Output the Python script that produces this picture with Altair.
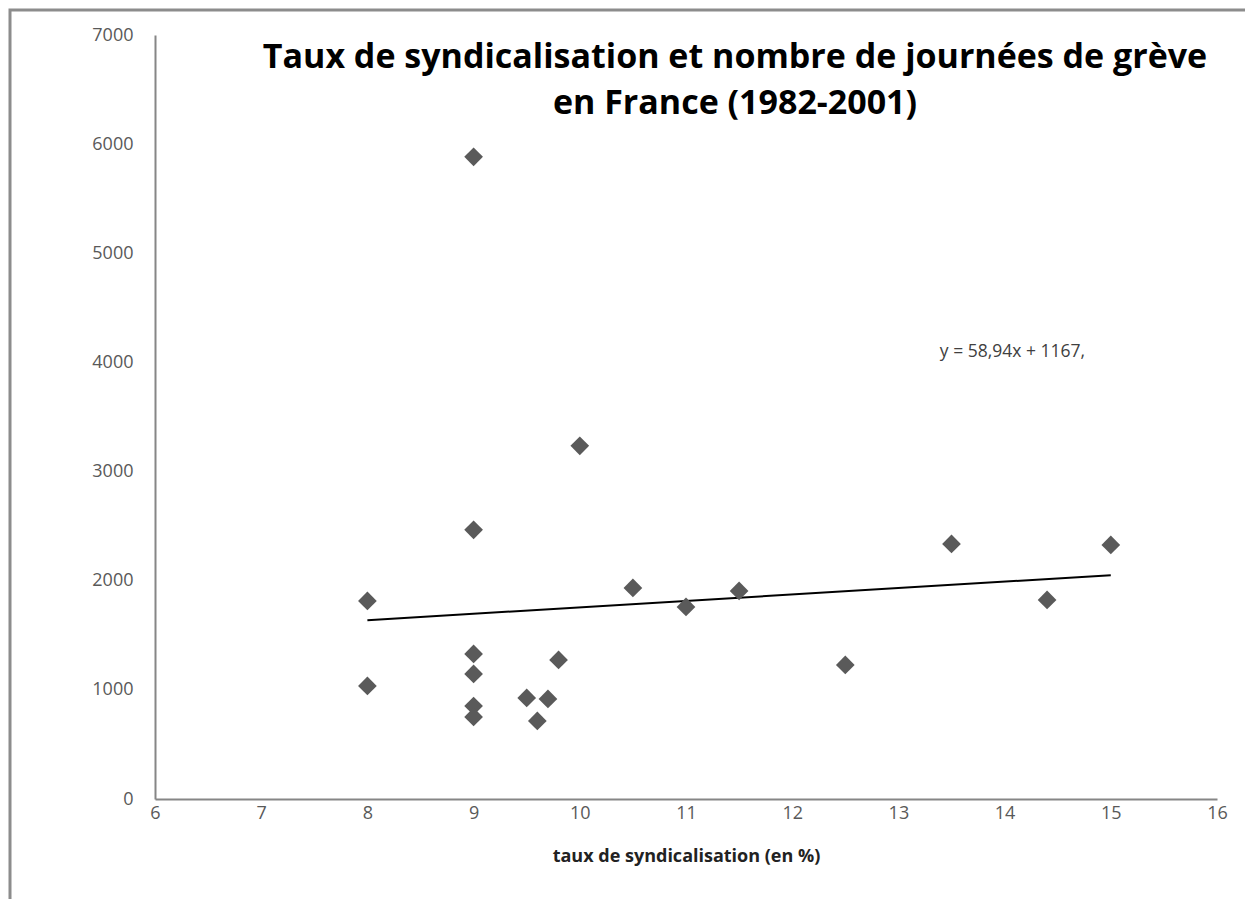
import altair as alt
import pandas as pd

# Data
taux = [8, 8, 9, 9, 9, 9, 9, 9, 9.5, 9.6, 9.7, 9.8, 10, 10.5, 11, 11.5, 12.5, 13.5, 14.4, 15]
jours = [1815, 1036, 5884, 2466, 1329, 1146, 852, 752, 926, 715, 917, 1274, 3236, 1934, 1760, 1906, 1228, 2337, 1824, 2328]

trend_x = [8, 15]
trend_y = [1638.5, 2051.1]

eq_label = ["y = 58,94x + 1167,"]
eq_x = [13.39]
eq_y = [4096]

title_lines = ["Taux de syndicalisation et nombre de journées de grève", "en France (1982-2001)"]
x_ticks = [6, 7, 8, 9, 10, 11, 12, 13, 14, 15, 16]
y_ticks = [0, 1000, 2000, 3000, 4000, 5000, 6000, 7000]

FONT = "Open Sans"

pts = pd.DataFrame({"taux": taux, "jours": jours})
trend = pd.DataFrame({"taux": trend_x, "jours": trend_y})
eq = pd.DataFrame({"taux": eq_x, "jours": eq_y, "label": eq_label})

xscale = alt.Scale(domain=[6, 16], nice=False, zero=False)
yscale = alt.Scale(domain=[0, 7000], nice=False)

xaxis = alt.Axis(values=x_ticks, format="d", title="taux de syndicalisation (en %)", grid=False, ticks=False,
                 domainColor="#868686", domainWidth=2, labelColor="#595959", labelFont=FONT,
                 labelFontSize=18, labelPadding=5, titleFont=FONT, titleFontSize=18,
                 titleFontWeight="bold", titleColor="#222222", titlePadding=25, labelFlush=False)
yaxis = alt.Axis(values=y_ticks, format="d", title=None, grid=False, ticks=False, domainColor="#868686",
                 domainWidth=2, labelColor="#595959", labelFont=FONT, labelFontSize=18,
                 labelPadding=22, labelFlush=False)

frame = alt.Chart(pd.DataFrame({"a": [0]})).mark_rect(
    fill=None, stroke="#8c8c8c", strokeWidth=3, clip=False
).encode(x=alt.value(-145), y=alt.value(-25), x2=alt.value(1130), y2=alt.value(920))

points = alt.Chart(pts).mark_point(
    shape="diamond", filled=True, size=350, color="#5a5a5a", opacity=1
).encode(
    x=alt.X("taux:Q", scale=xscale, axis=xaxis),
    y=alt.Y("jours:Q", scale=yscale, axis=yaxis),
)

line = alt.Chart(trend).mark_line(color="#000000", strokeWidth=2).encode(
    x=alt.X("taux:Q", scale=xscale),
    y=alt.Y("jours:Q", scale=yscale),
)

eqtext = alt.Chart(eq).mark_text(
    align="left", baseline="middle", font=FONT, fontSize=17.5, color="#404040"
).encode(
    x=alt.X("taux:Q", scale=xscale),
    y=alt.Y("jours:Q", scale=yscale),
    text="label:N",
)

chart = alt.layer(line, points, eqtext, frame).properties(
    width=1062,
    height=764,
    padding={"left": 147, "top": 27, "right": 28, "bottom": 100},
    autosize=alt.AutoSizeParams(type="none"),
    title=alt.TitleParams(
        text=title_lines, anchor="middle", dx=49, offset=-112, font=FONT, fontSize=34,
        fontWeight="bold", color="#000000", lineHeight=46,
    ),
).configure(background="white").configure_view(stroke=None)

chart.save("out.html", embed_options={"renderer": "svg", "actions": False})
